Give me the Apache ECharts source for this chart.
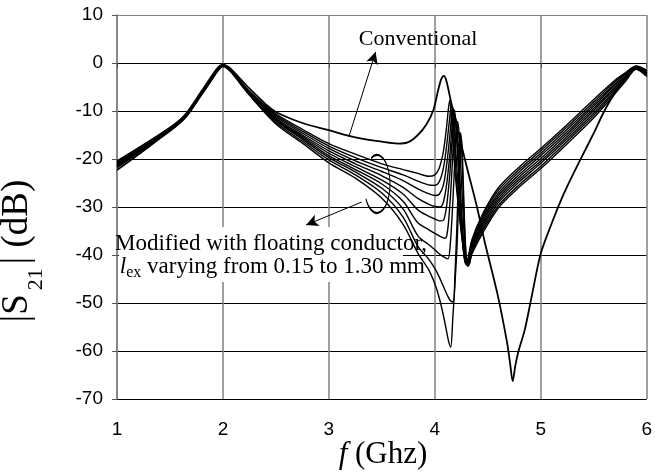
<!DOCTYPE html>
<html>
<head>
<meta charset="utf-8">
<script src="https://cdn.jsdelivr.net/npm/echarts@6/dist/echarts.min.js"></script>
<style>
html,body{margin:0;padding:0;background:#fff;}
#chart{width:655px;height:472px;}
</style>
</head>
<body>
<div id="chart"></div>
<script>
// ---------- DATA ----------
const conventional = [
 [1.0,-22.3],[1.25,-18.3],[1.5,-13.9],[1.65,-10.6],[1.8,-5.8],[1.9,-2.5],[1.95,-1.0],[2.0,-0.3],
 [2.05,-0.8],[2.1,-1.8],[2.25,-5.3],[2.4,-8.5],[2.5,-10.2],[2.75,-12.5],[3.0,-14.0],[3.25,-15.5],
 [3.5,-16.4],[3.65,-16.8],[3.75,-16.5],[3.84,-15.0],[3.92,-12.8],[3.985,-9.9],[4.03,-5.8],[4.06,-3.4],
 [4.085,-2.7],[4.11,-3.8],[4.15,-7.8],[4.2,-12.5],[4.25,-17.0],[4.3,-21.5],[4.4,-30.2],[4.47,-37.2],
 [4.59,-48.0],[4.68,-58.0],[4.71,-62.5],[4.735,-66.3],[4.76,-63.0],[4.79,-60.0],[4.85,-55.5],[4.92,-48.0],
 [5.0,-39.7],[5.1,-33.6],[5.19,-28.6],[5.28,-24.3],[5.37,-20.3],[5.5,-14.6],[5.6,-10.0],[5.7,-6.2],
 [5.78,-3.6],[5.85,-1.6],[5.9,-0.8],[5.95,-1.2],[6.0,-2.2]
];

// shared frequency points of the modified curves (GHz)
const modFreqLeft  = [1.0,1.25,1.5,1.65,1.8,1.9,1.95,2.0,2.05,2.1,2.25,2.5,2.75,3.0,3.25,3.5,3.7];
const modFreqRight = [4.35,4.45,4.6,4.8,5.0,5.25,5.5,5.7,5.8,5.9,6.0];

// modified curves (l_ex from 0.15 to 1.30 mm), dB at modFreqLeft
const modLeftA = [-20.4,-17.0,-13.4,-10.7,-6.1,-2.9,-1.3,-0.4,-0.9,-2.0,-5.9,-10.6,-13.8,-16.8,-19.0,-21.0,-22.2];
const modLeftB = [-20.6,-17.1,-13.5,-10.8,-6.2,-3.0,-1.4,-0.4,-1.0,-2.1,-6.0,-10.9,-14.2,-17.3,-19.7,-21.8,-23.3];
const modLeftC = [-20.8,-17.3,-13.6,-10.9,-6.2,-3.0,-1.4,-0.5,-1.0,-2.2,-6.1,-11.2,-14.6,-17.8,-20.4,-22.6,-24.5];
const modLeftD = [-21.0,-17.4,-13.7,-11.0,-6.3,-3.1,-1.5,-0.5,-1.1,-2.2,-6.2,-11.5,-15.0,-18.3,-21.0,-23.5,-25.9];
const modLeftE = [-21.1,-17.5,-13.8,-11.0,-6.3,-3.1,-1.5,-0.5,-1.1,-2.3,-6.3,-11.7,-15.3,-18.8,-21.6,-24.4,-27.3];
const modLeftF = [-21.3,-17.6,-13.9,-11.1,-6.4,-3.2,-1.6,-0.6,-1.2,-2.3,-6.4,-11.9,-15.6,-19.3,-22.2,-25.2,-28.8];
const modLeftG = [-21.4,-17.7,-14.0,-11.2,-6.4,-3.2,-1.6,-0.6,-1.2,-2.4,-6.5,-12.1,-15.9,-19.7,-22.7,-26.1,-30.4];
const modLeftH = [-21.6,-17.8,-14.1,-11.2,-6.5,-3.3,-1.7,-0.6,-1.3,-2.4,-6.6,-12.4,-16.3,-20.2,-23.3,-27.1,-32.1];
const modLeftI = [-21.8,-18.0,-14.2,-11.3,-6.6,-3.3,-1.7,-0.7,-1.3,-2.5,-6.7,-12.7,-16.7,-20.8,-24.0,-28.2,-33.6];

// resonance region [f, dB]
const modMidA = [[3.84,-23.0],[3.94,-23.6],[4.0,-23.3],[4.04,-22.0],[4.08,-18.5],[4.11,-13.5],[4.14,-7.8],[4.16,-12.5],[4.18,-19.5],[4.2,-25.0],[4.23,-31.5],[4.26,-37.0],[4.29,-41.4],[4.31,-41.0]];
const modMidB = [[3.84,-24.6],[3.94,-25.4],[4.0,-25.5],[4.04,-24.8],[4.08,-22.0],[4.11,-17.5],[4.14,-11.5],[4.155,-8.6],[4.17,-11.0],[4.19,-19.0],[4.21,-26.0],[4.24,-33.0],[4.27,-39.0],[4.29,-41.7],[4.31,-41.3]];
const modMidC = [[3.84,-26.2],[3.94,-27.2],[4.0,-27.6],[4.04,-27.4],[4.08,-25.5],[4.11,-21.5],[4.14,-15.5],[4.16,-10.5],[4.17,-9.2],[4.185,-12.0],[4.2,-19.0],[4.23,-29.0],[4.26,-36.5],[4.29,-41.8],[4.31,-41.5]];
const modMidD = [[3.84,-28.2],[3.94,-29.4],[4.0,-29.9],[4.05,-30.0],[4.08,-29.0],[4.11,-25.5],[4.14,-19.5],[4.16,-14.0],[4.175,-10.2],[4.185,-9.8],[4.2,-13.5],[4.22,-21.0],[4.25,-32.0],[4.28,-40.0],[4.3,-42.0],[4.32,-41.3]];
const modMidE = [[3.84,-30.6],[3.94,-31.9],[4.0,-32.5],[4.05,-32.9],[4.08,-32.8],[4.11,-30.0],[4.14,-23.5],[4.16,-17.0],[4.18,-11.8],[4.19,-10.8],[4.205,-13.5],[4.22,-20.0],[4.25,-32.0],[4.28,-40.2],[4.3,-42.1],[4.32,-41.4]];
const modMidF = [[3.84,-33.3],[3.94,-34.7],[4.0,-35.5],[4.05,-36.1],[4.09,-36.5],[4.11,-36.2],[4.13,-33.0],[4.155,-25.0],[4.175,-17.0],[4.195,-11.5],[4.21,-13.0],[4.23,-21.0],[4.26,-34.0],[4.285,-40.8],[4.3,-42.0],[4.32,-41.5]];
const modMidG = [[3.84,-36.0],[3.94,-37.8],[4.0,-38.9],[4.05,-39.9],[4.1,-40.6],[4.125,-40.8],[4.145,-38.0],[4.165,-31.0],[4.185,-22.0],[4.2,-15.0],[4.215,-12.2],[4.23,-15.0],[4.25,-24.0],[4.28,-37.0],[4.3,-41.8],[4.32,-41.7]];
const modMidH = [[3.84,-38.2],[3.94,-40.8],[4.0,-42.8],[4.04,-44.5],[4.08,-46.5],[4.12,-48.5],[4.15,-49.6],[4.175,-49.8],[4.19,-44.0],[4.21,-33.0],[4.225,-22.0],[4.24,-14.5],[4.25,-16.0],[4.27,-28.0],[4.29,-39.0],[4.31,-42.3],[4.33,-41.6]];
const modMidI = [[3.84,-39.6],[3.94,-43.0],[4.0,-46.0],[4.04,-48.8],[4.08,-52.5],[4.11,-55.8],[4.13,-58.0],[4.15,-59.2],[4.17,-53.0],[4.19,-46.0],[4.21,-38.0],[4.225,-28.0],[4.24,-18.0],[4.25,-15.5],[4.26,-19.0],[4.28,-33.0],[4.3,-41.5],[4.315,-42.3],[4.33,-41.5]];

// dB at modFreqRight
const modRightA = [-36.8,-31.5,-26.0,-21.6,-17.8,-12.8,-7.6,-3.6,-2.0,-0.6,-1.5];
const modRightB = [-37.2,-32.0,-26.5,-22.1,-18.3,-13.3,-8.1,-3.9,-2.2,-0.7,-1.7];
const modRightC = [-37.6,-32.5,-27.1,-22.6,-18.8,-13.8,-8.6,-4.3,-2.4,-0.8,-1.8];
const modRightD = [-38.0,-33.0,-27.6,-23.2,-19.3,-14.3,-9.0,-4.6,-2.7,-0.8,-2.0];
const modRightE = [-38.3,-33.5,-28.1,-23.7,-19.9,-14.8,-9.5,-5.0,-2.9,-0.9,-2.1];
const modRightF = [-38.7,-34.0,-28.6,-24.2,-20.4,-15.3,-9.9,-5.3,-3.1,-1.0,-2.3];
const modRightG = [-39.0,-34.5,-29.1,-24.7,-20.9,-15.8,-10.4,-5.7,-3.3,-1.1,-2.4];
const modRightH = [-39.4,-35.0,-29.7,-25.3,-21.5,-16.3,-10.9,-6.0,-3.6,-1.2,-2.6];
const modRightI = [-39.8,-35.5,-30.2,-25.8,-22.0,-16.8,-11.4,-6.4,-3.8,-1.3,-2.8];

const modLeft  = [modLeftA,modLeftB,modLeftC,modLeftD,modLeftE,modLeftF,modLeftG,modLeftH,modLeftI];
const modMid   = [modMidA,modMidB,modMidC,modMidD,modMidE,modMidF,modMidG,modMidH,modMidI];
const modRight = [modRightA,modRightB,modRightC,modRightD,modRightE,modRightF,modRightG,modRightH,modRightI];

const yTickColors = ['#000','#000','#000','#000','#000','#000','#000','#000','#808080'];

// ---------- CHART ----------
const chart = echarts.init(document.getElementById('chart'), null, {renderer:'canvas'});

function buildCurve(i){
  const pts = [];
  modFreqLeft.forEach((f,k)=>pts.push([f, modLeft[i][k]]));
  modMid[i].forEach(p=>pts.push(p));
  modFreqRight.forEach((f,k)=>pts.push([f, modRight[i][k]]));
  return pts;
}

const series = [];
for (let i=0;i<modLeft.length;i++){
  const s = {
    type:'line', data: buildCurve(i), showSymbol:false, symbol:'none',
    smooth:0.3,
    lineStyle:{color:'#000', width:1.4}, animation:false, silent:true, z:3
  };
  if (i===0){
    s.markLine = {
      silent:true, animation:false, symbol:['none','arrow'], symbolSize:[9,12],
      label:{show:false}, lineStyle:{color:'#000', width:1, type:'solid'},
      data:[[{coord:[3.31,-28.96]},{coord:[2.785,-33.75]}]]
    };
  }
  series.push(s);
}
series.push({
  type:'line', data: conventional, showSymbol:false, symbol:'none',
  smooth:0.3,
  lineStyle:{color:'#000', width:1.8}, animation:false, silent:true, z:4,
  markLine:{
    silent:true, animation:false, symbol:['none','arrow'], symbolSize:[9,12],
    label:{show:false}, lineStyle:{color:'#000', width:1, type:'solid'},
    data:[[{coord:[3.188,-15.4]},{coord:[3.441,2.3]}]]
  }
});

const option = {
  backgroundColor:'#fff',
  animation:false,
  grid:{left:117, right:5, top:15, bottom:73, containLabel:false},
  xAxis:{
    type:'value', min:1, max:6, interval:1,
    axisLine:{show:true, lineStyle:{color:'#000', width:1}},
    axisTick:{show:true, length:5, lineStyle:{color:'#555'}},
    axisLabel:{color:'#000', fontFamily:'Liberation Sans', fontSize:19, margin:21},
    splitLine:{show:true, lineStyle:{color:'#808080', width:1.5}}
  },
  yAxis:{
    type:'value', min:-70, max:10, interval:10,
    axisLine:{show:true, lineStyle:{color:'#808080', width:1.5}},
    axisTick:{show:true, length:5, lineStyle:{color:'#555'}},
    axisLabel:{color:'#000', fontFamily:'Liberation Sans', fontSize:19, margin:14},
    splitLine:{show:true, lineStyle:{color:yTickColors, width:1.2}}
  },
  series: series,
  graphic:[
    {type:'text', x:23, y:251, rotation:Math.PI/2, z:20,
     style:{text:'{b||S}{s|21}{b|| (dB)}', textAlign:'center', textVerticalAlign:'middle',
       rich:{
         b:{fontFamily:'Liberation Serif', fontSize:37, lineHeight:48, fill:'#000', verticalAlign:'top'},
         s:{fontFamily:'Liberation Serif', fontSize:22, lineHeight:26, fill:'#000', verticalAlign:'bottom', padding:[0,4,0,4]}
       }}},
    {type:'text', x:383, y:455, z:20,
     style:{text:'{i|f}{n| (Ghz)}', textAlign:'center', textVerticalAlign:'middle',
       rich:{
         i:{fontFamily:'Liberation Serif', fontStyle:'italic', fontSize:31, fill:'#000'},
         n:{fontFamily:'Liberation Serif', fontSize:31, fill:'#000'}
       }}},
    {type:'text', x:418, y:39, z:20,
     style:{text:'Conventional', font:'22px "Liberation Serif"', fill:'#000', textAlign:'center', textVerticalAlign:'middle'}},
    {type:'rect', z:10, shape:{x:119, y:227, width:284, height:55}, style:{fill:'#fff'}},
    {type:'text', x:427, y:244, z:20,
     style:{text:'Modified with floating conductor,', font:'23px "Liberation Serif"', fill:'#000', textAlign:'right', textVerticalAlign:'middle'}},
    {type:'text', x:425, y:268, z:20,
     style:{text:'{i|l}{s|ex}{n| varying from 0.15 to 1.30 mm}', textAlign:'right', textVerticalAlign:'middle',
       rich:{
         i:{fontFamily:'Liberation Serif', fontStyle:'italic', fontSize:23, lineHeight:26, fill:'#000', verticalAlign:'top'},
         s:{fontFamily:'Liberation Serif', fontSize:16, lineHeight:18, fill:'#000', verticalAlign:'bottom'},
         n:{fontFamily:'Liberation Serif', fontSize:23, lineHeight:26, fill:'#000', verticalAlign:'top'}
       }}},
    {type:'arc', z:20, x:377, y:184, scaleY:29/13,
     shape:{cx:0, cy:0, r:13, startAngle:-2.04, endAngle:2.60, clockwise:true},
     style:{fill:null, stroke:'#000', lineWidth:1, strokeNoScale:true}}
  ]
};
chart.setOption(option);
</script>
</body>
</html>
